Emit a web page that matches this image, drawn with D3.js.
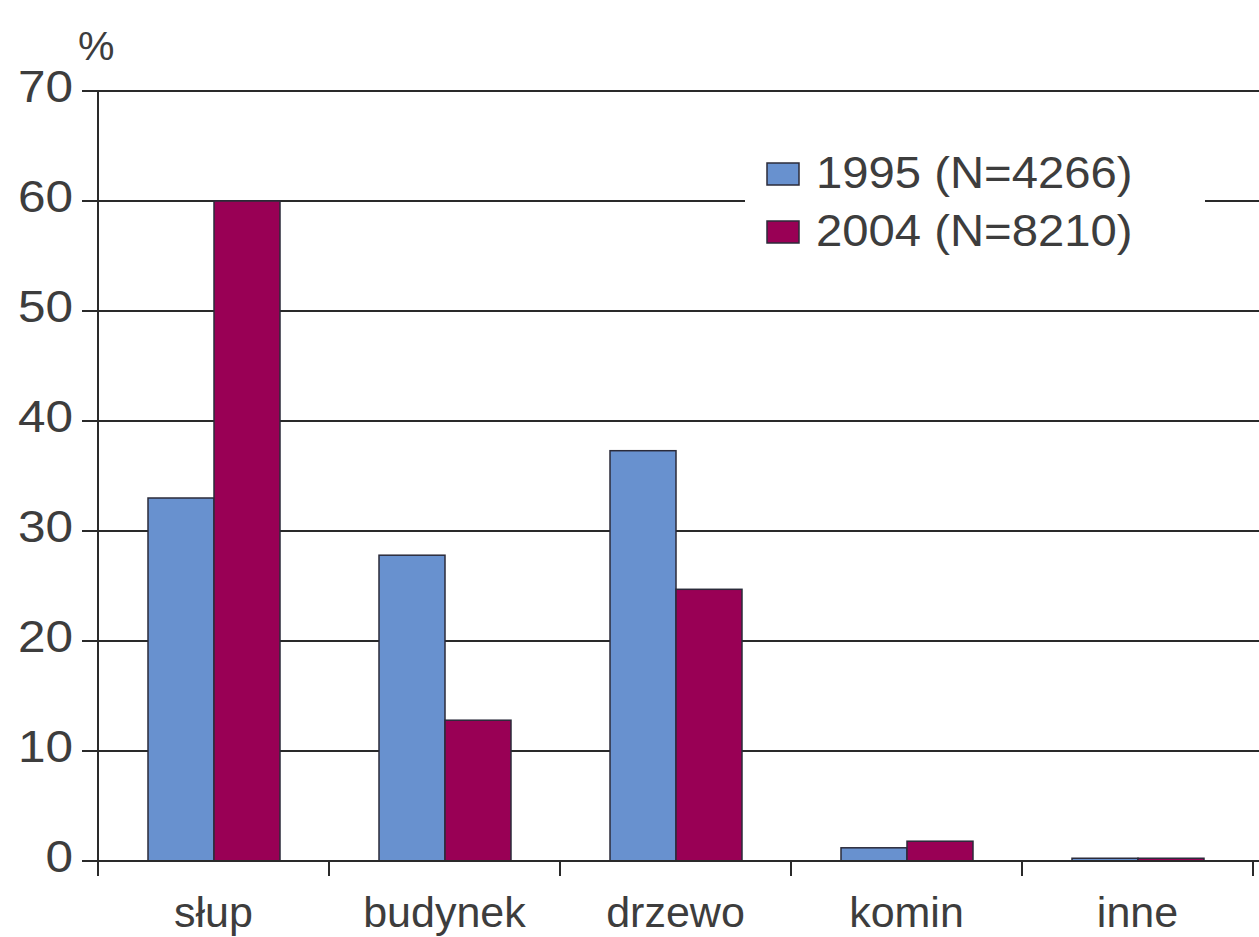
<!DOCTYPE html>
<html><head><meta charset="utf-8">
<script src="https://cdn.jsdelivr.net/npm/d3@7"></script>
<style>body{margin:0;background:#fff}svg{display:block}text{font-family:"Liberation Sans",Arial,sans-serif;fill:#3d3d3d}</style>
</head><body><svg id="c" width="1259" height="937"></svg>
<script>
const categories = ["słup","budynek","drzewo","komin","inne"];
const series1995 = [33.0, 27.8, 37.3, 1.2, 0.25];
const series2004 = [60.0, 12.8, 24.7, 1.8, 0.25];
const seriesNames = ["1995 (N=4266)","2004 (N=8210)"];
const seriesColors = ["#6891cf","#990055"];
const yTicks = [0,10,20,30,40,50,60,70];

(function(){
const svg = d3.select("#c");
const mLeft = 98, mRight = 1259, mTop = 91, mBottom = 861;
const x = d3.scaleBand().domain(categories).range([mLeft, mLeft + 231*5]).padding(0);
const y = d3.scaleLinear().domain([0,70]).range([mBottom, mTop]);

// gridlines
svg.append("g").selectAll("line").data(yTicks).join("line")
  .attr("x1", mLeft-16).attr("x2", mRight).attr("y1", d=>y(d)).attr("y2", d=>y(d))
  .attr("stroke","#2a2a2a").attr("stroke-width",2);
// y labels
svg.append("g").selectAll("text").data(yTicks).join("text")
  .attr("transform", d=>`translate(73,${y(d)-5}) scale(1.1,1)`)
  .attr("dy","0.36em").attr("text-anchor","end")
  .attr("font-size",45).text(d=>d);
svg.append("text").attr("x",78).attr("y",60).attr("font-size",41).text("%");

// bars
const sub = d3.scaleBand().domain([0,1]).range([50, 182]);
const data = categories.map((c,i)=>({c, v:[series1995[i], series2004[i]]}));
const g = svg.append("g");
data.forEach(d=>{
  d.v.forEach((v,k)=>{
    g.append("rect").attr("x", x(d.c)+sub(k)).attr("width", sub.bandwidth())
     .attr("y", y(v)).attr("height", y(0)-y(v))
     .attr("fill", seriesColors[k]).attr("stroke","#2b2b3a").attr("stroke-width",1.5);
  });
});

// axes
svg.append("line").attr("x1",mLeft).attr("x2",mLeft).attr("y1",mTop).attr("y2",mBottom+14).attr("stroke","#2a2a2a").attr("stroke-width",2);
svg.append("line").attr("x1",mLeft-16).attr("x2",mRight).attr("y1",mBottom).attr("y2",mBottom).attr("stroke","#2a2a2a").attr("stroke-width",2);
const xt = categories.map(c=>x(c)).concat([x(categories[4])+x.bandwidth()]);
svg.append("g").selectAll("line").data(xt).join("line")
  .attr("x1",d=>d).attr("x2",d=>d).attr("y1",mBottom).attr("y2",mBottom+15).attr("stroke","#2a2a2a").attr("stroke-width",2);
svg.append("g").selectAll("text").data(categories).join("text")
  .attr("x",d=>x(d)+x.bandwidth()/2).attr("y",927).attr("text-anchor","middle").attr("font-size",43).text(d=>d);

// legend
const lg = svg.append("g");
lg.append("rect").attr("x",745).attr("y",150).attr("width",460).attr("height",120).attr("fill","#fff");
seriesNames.forEach((n,k)=>{
  lg.append("rect").attr("x",767).attr("y",163+k*58).attr("width",32).attr("height",22)
    .attr("fill",seriesColors[k]).attr("stroke","#2b2b3a").attr("stroke-width",1.5);
  lg.append("text").attr("transform",`translate(816,${188+k*58}) scale(1.05,1)`).attr("font-size",45).text(n);
});
})();
</script></body></html>
